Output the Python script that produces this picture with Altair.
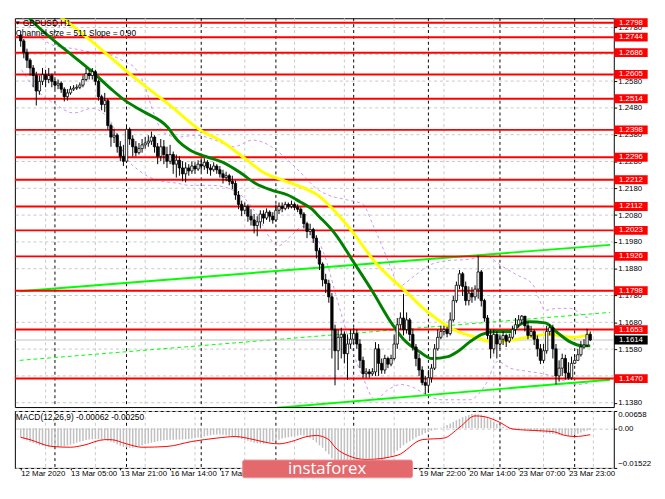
import altair as alt
import pandas as pd

# ---------------- data ----------------
first_open = 1.2751
closes = [1.2730,1.2687,1.2658,1.2629,1.2601,1.2543,1.2579,1.2604,1.2586,1.2601,
          1.2579,1.2565,1.2572,1.2550,1.2522,1.2536,1.2550,1.2554,1.2557,1.2565,
          1.2586,1.2608,1.2601,1.2615,1.2579,1.2522,1.2493,1.2507,1.2414,1.2371,
          1.2378,1.2335,1.2299,1.2281,1.2400,1.2364,1.2335,1.2313,1.2328,1.2342,
          1.2349,1.2356,1.2371,1.2335,1.2299,1.2335,1.2306,1.2281,1.2306,1.2270,
          1.2285,1.2256,1.2234,1.2256,1.2245,1.2263,1.2252,1.2270,1.2263,1.2277,
          1.2256,1.2249,1.2263,1.2249,1.2234,1.2220,1.2227,1.2206,1.2198,1.2155,
          1.2120,1.2098,1.2112,1.2076,1.2062,1.2041,1.2055,1.2084,1.2069,1.2091,
          1.2076,1.2062,1.2098,1.2112,1.2105,1.2120,1.2112,1.2120,1.2109,1.2102,
          1.2084,1.2048,1.2019,1.2026,1.1994,1.1947,1.1897,1.1839,1.1825,1.1775,
          1.1653,1.1574,1.1624,1.1635,1.1563,1.1599,1.1617,1.1638,1.1599,1.1538,
          1.1488,1.1495,1.1488,1.1495,1.1581,1.1527,1.1502,1.1545,1.1524,1.1545,
          1.1599,1.1671,1.1696,1.1653,1.1689,1.1635,1.1588,1.1545,1.1502,1.1455,
          1.1445,1.1473,1.1509,1.1581,1.1624,1.1646,1.1653,1.1638,1.1689,1.1761,
          1.1818,1.1861,1.1814,1.1761,1.1789,1.1775,1.1804,1.1868,1.1761,1.1696,
          1.1631,1.1581,1.1635,1.1599,1.1617,1.1631,1.1610,1.1624,1.1653,1.1671,
          1.1689,1.1703,1.1667,1.1631,1.1646,1.1617,1.1581,1.1538,1.1574,1.1646,
          1.1660,1.1581,1.1480,1.1509,1.1545,1.1491,1.1473,1.1527,1.1538,1.1559,
          1.1588,1.1595,1.1635,1.1614]
highs = [1.2766,1.2737,1.2701,1.2665,1.2640,1.2615,1.2601,1.2629,1.2622,1.2629,
         1.2608,1.2586,1.2586,1.2579,1.2557,1.2550,1.2561,1.2565,1.2568,1.2575,
         1.2601,1.2629,1.2622,1.2629,1.2622,1.2586,1.2529,1.2536,1.2514,1.2421,
         1.2400,1.2385,1.2356,1.2342,1.2414,1.2407,1.2378,1.2356,1.2349,1.2364,
         1.2371,1.2378,1.2392,1.2378,1.2349,1.2364,1.2360,1.2335,1.2342,1.2317,
         1.2306,1.2299,1.2281,1.2277,1.2270,1.2281,1.2277,1.2285,1.2292,1.2292,
         1.2285,1.2270,1.2277,1.2270,1.2263,1.2249,1.2242,1.2234,1.2227,1.2209,
         1.2170,1.2134,1.2127,1.2120,1.2102,1.2084,1.2076,1.2098,1.2098,1.2105,
         1.2098,1.2091,1.2120,1.2127,1.2127,1.2130,1.2127,1.2134,1.2127,1.2120,
         1.2109,1.2091,1.2055,1.2048,1.2033,1.2005,1.1958,1.1904,1.1861,1.1839,
         1.1789,1.1671,1.1653,1.1660,1.1646,1.1635,1.1653,1.1660,1.1653,1.1617,
         1.1552,1.1509,1.1506,1.1509,1.1606,1.1599,1.1545,1.1559,1.1552,1.1559,
         1.1635,1.1696,1.1717,1.1786,1.1717,1.1696,1.1653,1.1599,1.1563,1.1516,
         1.1480,1.1502,1.1524,1.1599,1.1653,1.1667,1.1667,1.1664,1.1717,1.1778,
         1.1832,1.1875,1.1868,1.1832,1.1814,1.1811,1.1818,1.1929,1.1875,1.1768,
         1.1707,1.1653,1.1653,1.1646,1.1635,1.1646,1.1638,1.1638,1.1667,1.1696,
         1.1707,1.1707,1.1703,1.1682,1.1667,1.1653,1.1631,1.1599,1.1599,1.1667,
         1.1674,1.1671,1.1599,1.1538,1.1563,1.1559,1.1531,1.1552,1.1559,1.1581,
         1.1610,1.1617,1.1656,1.1646]
lows = [1.2708,1.2665,1.2629,1.2601,1.2557,1.2489,1.2529,1.2565,1.2557,1.2572,
        1.2557,1.2550,1.2550,1.2536,1.2504,1.2507,1.2529,1.2543,1.2547,1.2550,
        1.2557,1.2579,1.2586,1.2586,1.2565,1.2507,1.2471,1.2464,1.2400,1.2335,
        1.2349,1.2313,1.2281,1.2263,1.2274,1.2342,1.2299,1.2299,1.2306,1.2313,
        1.2328,1.2335,1.2342,1.2313,1.2270,1.2281,1.2270,1.2256,1.2270,1.2234,
        1.2220,1.2227,1.2206,1.2202,1.2227,1.2234,1.2234,1.2245,1.2242,1.2249,
        1.2234,1.2227,1.2242,1.2234,1.2220,1.2198,1.2206,1.2191,1.2177,1.2137,
        1.2102,1.2076,1.2084,1.2055,1.2041,1.2012,1.2001,1.2030,1.2048,1.2062,
        1.2055,1.2048,1.2055,1.2084,1.2091,1.2098,1.2102,1.2105,1.2098,1.2091,
        1.2069,1.2030,1.1994,1.2005,1.1976,1.1918,1.1875,1.1814,1.1789,1.1753,
        1.1545,1.1445,1.1502,1.1545,1.1527,1.1466,1.1581,1.1599,1.1581,1.1509,
        1.1473,1.1473,1.1473,1.1480,1.1480,1.1480,1.1488,1.1488,1.1509,1.1516,
        1.1538,1.1581,1.1653,1.1631,1.1638,1.1610,1.1574,1.1516,1.1480,1.1445,
        1.1412,1.1416,1.1455,1.1502,1.1574,1.1617,1.1631,1.1624,1.1631,1.1682,
        1.1753,1.1804,1.1778,1.1743,1.1743,1.1753,1.1761,1.1768,1.1739,1.1682,
        1.1617,1.1545,1.1563,1.1545,1.1581,1.1595,1.1588,1.1603,1.1617,1.1635,
        1.1660,1.1674,1.1646,1.1617,1.1624,1.1595,1.1552,1.1524,1.1527,1.1563,
        1.1631,1.1545,1.1448,1.1459,1.1480,1.1466,1.1466,1.1466,1.1524,1.1538,
        1.1552,1.1581,1.1588,1.1610]

macd_main = [-0.0035,-0.0040,-0.0046,-0.0053,-0.0057,-0.0060,-0.0065,-0.0067,-0.0069,-0.0071,
             -0.0072,-0.0072,-0.0072,-0.0071,-0.0069,-0.0066,-0.0063,-0.0060,-0.0056,-0.0052,
             -0.0049,-0.0045,-0.0043,-0.0042,-0.0041,-0.0041,-0.0043,-0.0044,-0.0048,-0.0052,
             -0.0056,-0.0062,-0.0067,-0.0072,-0.0074,-0.0075,-0.0075,-0.0072,-0.0069,-0.0066,
             -0.0062,-0.0059,-0.0056,-0.0053,-0.0050,-0.0048,-0.0046,-0.0045,-0.0044,-0.0044,
             -0.0043,-0.0043,-0.0043,-0.0042,-0.0041,-0.0040,-0.0038,-0.0036,-0.0034,-0.0032,
             -0.0029,-0.0027,-0.0025,-0.0024,-0.0024,-0.0025,-0.0027,-0.0029,-0.0032,-0.0035,
             -0.0038,-0.0041,-0.0044,-0.0048,-0.0052,-0.0056,-0.0058,-0.0059,-0.0060,-0.0058,
             -0.0055,-0.0051,-0.0047,-0.0044,-0.0040,-0.0037,-0.0035,-0.0033,-0.0031,-0.0029,
             -0.0027,-0.0028,-0.0032,-0.0038,-0.0045,-0.0055,-0.0065,-0.0075,-0.0088,-0.0100,
             -0.0115,-0.0128,-0.0136,-0.0142,-0.0146,-0.0149,-0.0150,-0.0150,-0.0149,-0.0147,
             -0.0145,-0.0143,-0.0141,-0.0137,-0.0133,-0.0128,-0.0124,-0.0118,-0.0113,-0.0108,
             -0.0095,-0.0085,-0.0076,-0.0065,-0.0058,-0.0050,-0.0043,-0.0036,-0.0030,-0.0025,
             -0.0018,-0.0014,-0.0010,-0.0006,-0.0002,0.0002,0.0006,0.0012,0.0018,0.0024,
             0.0030,0.0036,0.0042,0.0046,0.0050,0.0054,0.0054,0.0053,0.0051,0.0048,
             0.0040,0.0033,0.0025,0.0017,0.0010,0.0005,0.0000,-0.0004,-0.0004,-0.0003,
             -0.0002,-0.0002,-0.0004,-0.0005,-0.0007,-0.0010,-0.0013,-0.0016,-0.0018,-0.0019,
             -0.0021,-0.0022,-0.0024,-0.0026,-0.0028,-0.0029,-0.0030,-0.0029,-0.0025,-0.0021,
             -0.0017,-0.0012,-0.0009,-0.0006]

signal_bars = [0,3,10,16,20,27,29,34,39,47,55,63,69,75,80,83,87,92,95,99,101,105,111,
               121,129,136,141,146,149,154,158,165,171,175,178,183]
signal_vals = [-0.0035,-0.0044,-0.0070,-0.0073,-0.0066,-0.0044,-0.0044,-0.0060,-0.0073,-0.0070,
               -0.0051,-0.0038,-0.0032,-0.0044,-0.0057,-0.0060,-0.0051,-0.0032,-0.0028,-0.0044,
               -0.0073,-0.0104,-0.0120,-0.0104,-0.0044,-0.0038,0.0003,0.0047,0.0044,0.0022,
               -0.0003,-0.0009,-0.0013,-0.0028,-0.0032,-0.0025]

yellow_bars = [7.9,11.8,25.2,34.2,41.2,47.3,57.9,64.5,72.4,77.6,84.5,91.8,95.8,98.8,107,113.9,
               119.1,123.9,129.1,133,137.3,141.2,146.4,150.3,155.5,159.4,164.5,169.4,174.5,177.6,183]
yellow_vals = [1.2856,1.2827,1.2705,1.2615,1.2550,1.2496,1.2396,1.2356,1.2288,1.2242,1.2209,
               1.2177,1.2152,1.2120,1.2012,1.1904,1.1843,1.1793,1.1735,1.1699,1.1664,1.1642,
               1.1624,1.1610,1.1610,1.1617,1.1628,1.1635,1.1628,1.1624,1.1635]

green_bars = [0.9,4.8,13.9,23,29.1,33.6,39.1,47.3,50.3,54.2,59.4,65.5,70.6,75.5,80.6,85.8,89.7,
              93.6,95.8,100.9,107,113,119.1,123,128.2,132.1,137.3,140.3,144.2,148.2,152.4,157.3,
              160.3,163.3,168.5,172.4,176.7,180.6,183]
green_vals = [1.2838,1.2791,1.2701,1.2615,1.2550,1.2507,1.2468,1.2407,1.2360,1.2324,1.2299,
              1.2274,1.2238,1.2198,1.2173,1.2155,1.2130,1.2102,1.2076,1.2012,1.1904,1.1796,
              1.1678,1.1617,1.1570,1.1545,1.1552,1.1570,1.1606,1.1635,1.1646,1.1646,1.1671,
              1.1682,1.1678,1.1642,1.1606,1.1592,1.1592]

upper_bars = [0.3,4.8,10.9,17,23,29.1,33.6,36.7,39.7,42.7,45.8,50.3,56.4,62.4,68.5,74.5,80.6,
              84.5,88.8,91.8,94.8,98.8,104.8,110,113,116.1,119.1,121.5,126.1,132.1,138.2,144.2,
              149.4,154.2,159.4,164.5,166.4,168.5,172.4,176.7,181.5,183]
upper_vals = [1.2820,1.2759,1.2712,1.2701,1.2687,1.2676,1.2651,1.2629,1.2568,1.2461,1.2389,
              1.2371,1.2378,1.2360,1.2335,1.2360,1.2335,1.2299,1.2252,1.2216,1.2181,1.2155,
              1.2137,1.2120,1.2048,1.1965,1.1879,1.1814,1.1850,1.1897,1.1911,1.1915,1.1929,
              1.1893,1.1857,1.1822,1.1771,1.1725,1.1732,1.1732,1.1700,1.1696]
lower_bars = [0.3,4.8,10.9,17,23,29.1,33.6,38.2,44.2,50.3,54.2,61.5,69.4,73.6,76.7,79.7,82.7,
              86.7,90.6,94.2,97.3,101.8,106.4,110,113.9,117.9,122.1,126.1,130,135.2,139.7,144.2,
              149.4,153.3,157.3,162.4,169.4,174.5,178.5,183]
lower_vals = [1.2622,1.2550,1.2496,1.2461,1.2478,1.2425,1.2299,1.2245,1.2209,1.2199,1.2191,
              1.2191,1.2166,1.2120,1.2066,1.2001,1.1965,1.2001,1.2037,1.2012,1.1940,1.1760,
              1.1581,1.1473,1.1391,1.1427,1.1448,1.1437,1.1412,1.1391,1.1391,1.1391,1.1448,
              1.1534,1.1509,1.1498,1.1484,1.1462,1.1448,1.1455]

channel_bars = [-0.3, 189.4]
channel_upper = [1.1796, 1.1969]
channel_mid = [1.1538, 1.1717]
channel_lower = [1.1280, 1.1466]

levels = [1.2798, 1.2744, 1.2686, 1.2605, 1.2514, 1.2398, 1.2296, 1.2212,
          1.2112, 1.2023, 1.1926, 1.1798, 1.1653, 1.1470]
current_price = 1.1614
price_ticks = [1.1380, 1.1580, 1.1680, 1.1780, 1.1880, 1.1980, 1.2080,
               1.2180, 1.2280, 1.2380, 1.2480, 1.2580, 1.2780]
price_grid = [1.1380, 1.1480, 1.1580, 1.1680, 1.1780, 1.1880, 1.1980, 1.2080,
              1.2180, 1.2280, 1.2380, 1.2480, 1.2580, 1.2680, 1.2780]
macd_ticks = [-0.01522, 0.0, 0.00658]
day_breaks = [11, 34, 58, 82, 107, 131, 154, 178]
grid_bars = [8, 24, 40, 56, 72, 88, 104, 120, 136, 152, 168, 184]
label_bars = [0, 16, 32, 48, 64, 80, 96, 112, 128, 144, 160, 176]
# the three labels lying under the watermark are hidden in the reference
label_texts = ["12 Mar 2020", "13 Mar 05:00", "13 Mar 21:00", "16 Mar 14:00",
               "17 Mar 06:00", "", "", "",
               "19 Mar 22:00", "20 Mar 14:00", "23 Mar 07:00", "23 Mar 23:00"]

# ---------------- tables ----------------
n = len(closes)
opens = [first_open] + closes[:-1]
candles = pd.DataFrame({
    "bar": list(range(n)),
    "open": opens,
    "close": closes,
    "high": [max(h, o, c) for h, o, c in zip(highs, opens, closes)],
    "low": [min(l, o, c) for l, o, c in zip(lows, opens, closes)],
})
candles["up"] = candles["close"] >= candles["open"]
hist = pd.DataFrame({"bar": list(range(n)), "macd": macd_main})
sig = pd.DataFrame({"bar": signal_bars, "macd": signal_vals})


def line_df(bars, vals, name):
    return pd.DataFrame({"bar": bars, "price": vals, "line": name})


yellow = line_df(yellow_bars, yellow_vals, "yellow")
green = line_df(green_bars, green_vals, "green")
bands = pd.concat([line_df(upper_bars, upper_vals, "up"), line_df(lower_bars, lower_vals, "lo")])
chan = pd.concat([line_df(channel_bars, channel_upper, "u"), line_df(channel_bars, channel_lower, "l")])
chan_mid = line_df(channel_bars, channel_mid, "m")
lev = pd.DataFrame({"price": levels, "label": [f"{v:.4f}" for v in levels]})
cur = pd.DataFrame({"price": [current_price], "label": [f"{current_price:.4f}"]})
hgrid = pd.DataFrame({"price": price_grid})
days = pd.DataFrame({"bar": day_breaks})
grids = pd.DataFrame({"bar": grid_bars})
one = pd.DataFrame({"k": [0]})

FONT = "Liberation Sans"
W, HP, HM = 610, 396, 58
xs = alt.Scale(domain=[-0.3, 189.0], nice=False, zero=False)
ys = alt.Scale(domain=[1.13638, 1.28145], nice=False, zero=False)
ms = alt.Scale(domain=[-0.01522, 0.00658], nice=False, zero=False)

y_axis = alt.Axis(orient="right", values=price_ticks, format=".4f", title=None,
                  labelFont=FONT, labelFontSize=8, labelColor="black", labelPadding=1,
                  tickColor="black", tickSize=3, domain=False, grid=False,
                  labelOverlap=False, zindex=0)
XP = alt.X("bar:Q", scale=xs, axis=None)


def YP(field):
    return alt.Y(f"{field}:Q", scale=ys, axis=y_axis)


hgrid_p = alt.Chart(hgrid).mark_rule(color="#C8C8C8", strokeDash=[3, 3], strokeWidth=1).encode(y=YP("price"))
grid_p = alt.Chart(grids).mark_rule(color="#C8C8C8", strokeDash=[3, 3], strokeWidth=1).encode(x=XP)
day_p = alt.Chart(days).mark_rule(color="black", strokeDash=[3, 3], strokeWidth=1).encode(x=XP)
lev_rules = alt.Chart(lev).mark_rule(color="#FF0000", strokeWidth=2).encode(y=YP("price"))
cur_rule = alt.Chart(cur).mark_rule(color="#C0C0C0", strokeWidth=1).encode(y=YP("price"))
chan_lines = alt.Chart(chan).mark_line(color="#00FF00", strokeWidth=2, clip=True).encode(
    x=XP, y=YP("price"), detail="line:N")
chan_mid_line = alt.Chart(chan_mid).mark_line(color="#00FF00", strokeWidth=1, strokeDash=[4, 3], clip=True).encode(
    x=XP, y=YP("price"))
band_lines = alt.Chart(bands).mark_line(color="#C896F0", strokeWidth=1, strokeDash=[3, 3],
                                        interpolate="monotone", clip=True).encode(
    x=XP, y=YP("price"), detail="line:N")
yellow_line = alt.Chart(yellow).mark_line(color="#FFFF00", strokeWidth=3, interpolate="monotone", clip=True).encode(
    x=XP, y=YP("price"))
green_line = alt.Chart(green).mark_line(color="#008000", strokeWidth=3, interpolate="monotone", clip=True).encode(
    x=XP, y=YP("price"))
wicks = alt.Chart(candles).mark_rule(color="black", strokeWidth=1, clip=True).encode(
    x=XP, y=YP("low"), y2="high:Q")
bodies = alt.Chart(candles).mark_bar(width=2.4, stroke="black", strokeWidth=0.8, clip=True).encode(
    x=XP, y=YP("open"), y2="close:Q",
    fill=alt.condition("datum.up", alt.value("white"), alt.value("black")))

BOX = "M-1,-0.265L1,-0.265L1,0.265L-1,0.265Z"
BX = 627.5
lev_box = alt.Chart(lev).mark_point(shape=BOX, size=1156, filled=True, color="#FF0000",
                                    opacity=1, strokeWidth=0).encode(
    x=alt.value(BX), y=YP("price"))
lev_txt = alt.Chart(lev).mark_text(color="white", font=FONT, fontSize=8, align="center", baseline="middle").encode(
    x=alt.value(BX), y=YP("price"), text="label:N")
cur_box = alt.Chart(cur).mark_point(shape=BOX, size=1156, filled=True, color="black",
                                    opacity=1, strokeWidth=0).encode(
    x=alt.value(BX), y=YP("price"))
cur_txt = alt.Chart(cur).mark_text(color="white", font=FONT, fontSize=8, align="center", baseline="middle").encode(
    x=alt.value(BX), y=YP("price"), text="label:N")

tri = alt.Chart(one).mark_point(shape="triangle-down", size=14, filled=True, color="black",
                                opacity=1, strokeWidth=0).encode(
    x=alt.value(3), y=alt.value(5))
title1 = alt.Chart(one).mark_text(font=FONT, fontSize=8.5, align="left", baseline="middle", color="black").encode(
    x=alt.value(8), y=alt.value(5), text=alt.value("GBPUSD,H1"))
title2 = alt.Chart(one).mark_text(font=FONT, fontSize=8.5, align="left", baseline="middle", color="black").encode(
    x=alt.value(1), y=alt.value(15), text=alt.value("Channel size = 511 Slope = 0.90"))

price_panel = alt.layer(
    hgrid_p, grid_p, day_p, band_lines, chan_mid_line, chan_lines, cur_rule, lev_rules,
    yellow_line, green_line, wicks, bodies, lev_box, lev_txt, cur_box, cur_txt,
    tri, title1, title2
).properties(width=W, height=HP)

# ---------------- MACD panel ----------------
label_expr = "[" + ",".join(f"'{t}'" for t in label_texts) + "][floor(datum.value / 16)]"
x_axis = alt.Axis(values=label_bars, labelExpr=label_expr, title=None, labelFont=FONT,
                  labelFontSize=8, labelColor="black", labelAlign="left", labelPadding=0,
                  tickColor="black", tickSize=2, domain=False, grid=False,
                  labelOverlap=False, labelBound=False, labelFlush=False, zindex=0)
XM = alt.X("bar:Q", scale=xs, axis=x_axis)
m_axis = alt.Axis(orient="right", values=macd_ticks, title=None,
                  labelExpr="datum.value == 0 ? '0.00' : format(datum.value, '.5f')",
                  labelFont=FONT, labelFontSize=8, labelColor="black", labelPadding=1,
                  labelFlush=True, tickColor="black", tickSize=3, domain=False,
                  grid=True, gridColor="#C8C8C8", gridDash=[3, 3], zindex=0)
YM = alt.Y("macd:Q", scale=ms, axis=m_axis)

grid_m = alt.Chart(grids).mark_rule(color="#C8C8C8", strokeDash=[3, 3], strokeWidth=1).encode(x=XM)
day_m = alt.Chart(days).mark_rule(color="black", strokeDash=[3, 3], strokeWidth=1).encode(x=XM)
hist_bars = alt.Chart(hist).mark_bar(width=1.5, color="#C0C0C0", clip=True).encode(x=XM, y=YM)
sig_line = alt.Chart(sig).mark_line(color="#FF0000", strokeWidth=1, interpolate="monotone", clip=True).encode(x=XM, y=YM)
macd_title = alt.Chart(one).mark_text(font=FONT, fontSize=8.5, align="left", baseline="middle", color="black").encode(
    x=alt.value(1), y=alt.value(6), text=alt.value("MACD(12,26,9) -0.00062 -0.00250"))
wm_rect = alt.Chart(one).mark_rect(color="#E3696D", stroke="#EE8E90", strokeWidth=1, cornerRadius=2).encode(
    x=alt.value(232), x2=alt.value(405), y=alt.value(50), y2=alt.value(68))
wm_text = alt.Chart(one).mark_text(font="Open Sans", fontSize=17, color="white", align="center",
                                   baseline="middle").encode(
    x=alt.value(318), y=alt.value(59), text=alt.value("instaforex"))

macd_panel = alt.layer(
    grid_m, day_m, hist_bars, sig_line, macd_title, wm_rect, wm_text
).properties(width=W, height=HM)

chart = alt.vconcat(price_panel, macd_panel, spacing=2).properties(
    background="white",
).configure_view(stroke="black", strokeWidth=1)

chart.save("out.html", embed_options={"renderer": "svg", "actions": False})
